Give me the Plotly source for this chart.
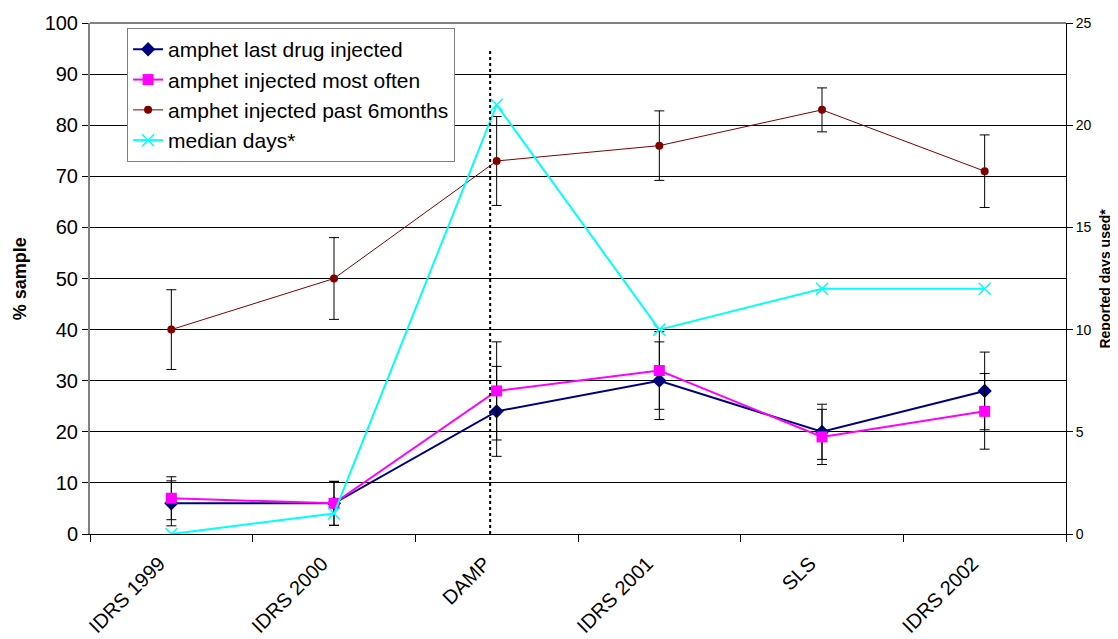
import plotly.graph_objects as go

categories = ["IDRS 1999", "IDRS 2000", "DAMP", "IDRS 2001", "SLS", "IDRS 2002"]
last_drug = [6, 6, 24, 30, 20, 28]
last_drug_err = [4.4, 4.3, 8.8, 7.6, 5.4, 7.6]
most_often = [7, 6, 28, 32, 19, 24]
most_often_err = [4.2, 4.3, 9.6, 7.6, 5.4, 7.4]
past_6m = [40, 50, 73, 76, 83, 71]
past_6m_err = [7.8, 8.0, 8.7, 6.8, 4.3, 7.1]
median_days = [0, 1, 21, 10, 12, 12]
left_ticks = list(range(0, 101, 10))
right_ticks = list(range(0, 26, 5))
divider_x = 1.96
divider_top = 94.7

FONT = "Arial, Liberation Sans, sans-serif"

fig = go.Figure()

fig.add_trace(go.Scatter(
    x=categories, y=last_drug, name="amphet last drug injected",
    mode="lines+markers",
    line=dict(color="#000080", width=2),
    marker=dict(symbol="diamond", size=11, color="#000080"),
    error_y=dict(type="data", array=last_drug_err, color="black", thickness=1, width=5),
))
fig.add_trace(go.Scatter(
    x=categories, y=most_often, name="amphet injected most often",
    mode="lines+markers",
    line=dict(color="#FF00FF", width=2),
    marker=dict(symbol="square", size=11, color="#FF00FF"),
    error_y=dict(type="data", array=most_often_err, color="black", thickness=1, width=5),
))
fig.add_trace(go.Scatter(
    x=categories, y=past_6m, name="amphet injected past 6months",
    mode="lines+markers",
    line=dict(color="#800000", width=1),
    marker=dict(symbol="circle", size=8, color="#800000"),
    error_y=dict(type="data", array=past_6m_err, color="black", thickness=1, width=5),
))
fig.add_trace(go.Scatter(
    x=categories, y=median_days, name="median days*",
    mode="lines+markers", yaxis="y2",
    line=dict(color="#00FFFF", width=2),
    marker=dict(symbol="x-thin", size=12, line=dict(color="#00FFFF", width=1.5)),
))

fig.add_shape(type="line", xref="x", yref="y",
              x0=divider_x, x1=divider_x, y0=0, y1=divider_top,
              line=dict(color="black", width=2, dash="dot"))

# the page places the figure 8px in from the top-left corner
fig.update_layout(
    width=1110, height=631,
    margin=dict(l=82, r=52, t=15, b=105),
    paper_bgcolor="white", plot_bgcolor="white",
    font=dict(family=FONT, color="black", size=20),
    showlegend=True,
    legend=dict(
        x=0.038, y=0.99, xanchor="left", yanchor="top",
        bgcolor="white", bordercolor="#808080", borderwidth=1,
        font=dict(size=21, family=FONT), tracegroupgap=0,
    ),
    xaxis=dict(
        type="category", categoryorder="array", categoryarray=categories,
        tickangle=-45, tickfont=dict(size=20), automargin=False,
        ticks="outside", tickson="boundaries", ticklen=7, tickcolor="black",
        ticklabelstandoff=9, ticklabelshift=-12,
        showline=True, linecolor="black", linewidth=1,
        showgrid=False, range=[-0.5, 5.5],
    ),
    yaxis=dict(
        range=[0, 100], tickvals=left_ticks, automargin=False,
        tickfont=dict(size=20),
        ticks="outside", ticklen=6, tickcolor="black",
        showline=True, linecolor="#808080", linewidth=2,
        showgrid=True, gridcolor="black", gridwidth=1,
        zeroline=False,
    ),
    yaxis2=dict(
        range=[0, 25], tickvals=right_ticks, overlaying="y", side="right",
        tickfont=dict(size=14), automargin=False,
        ticks="outside", ticklen=6, tickcolor="black",
        showline=True, linecolor="black", linewidth=1,
        showgrid=False, zeroline=False,
    ),
    annotations=[
        dict(text="<b>% sample</b>", xref="paper", yref="paper",
             x=-0.072, y=0.5, xanchor="center", yanchor="middle",
             textangle=-90, showarrow=False, font=dict(size=18)),
        dict(text="<b>Reported days used*</b>", xref="paper", yref="paper",
             x=1.039, y=0.5, xanchor="center", yanchor="middle",
             textangle=-90, showarrow=False, font=dict(size=14)),
    ],
)
fig.add_shape(type="line", xref="paper", yref="paper", x0=0, x1=1, y0=1, y1=1,
              line=dict(color="#808080", width=2))

fig.write_html("out.html")
